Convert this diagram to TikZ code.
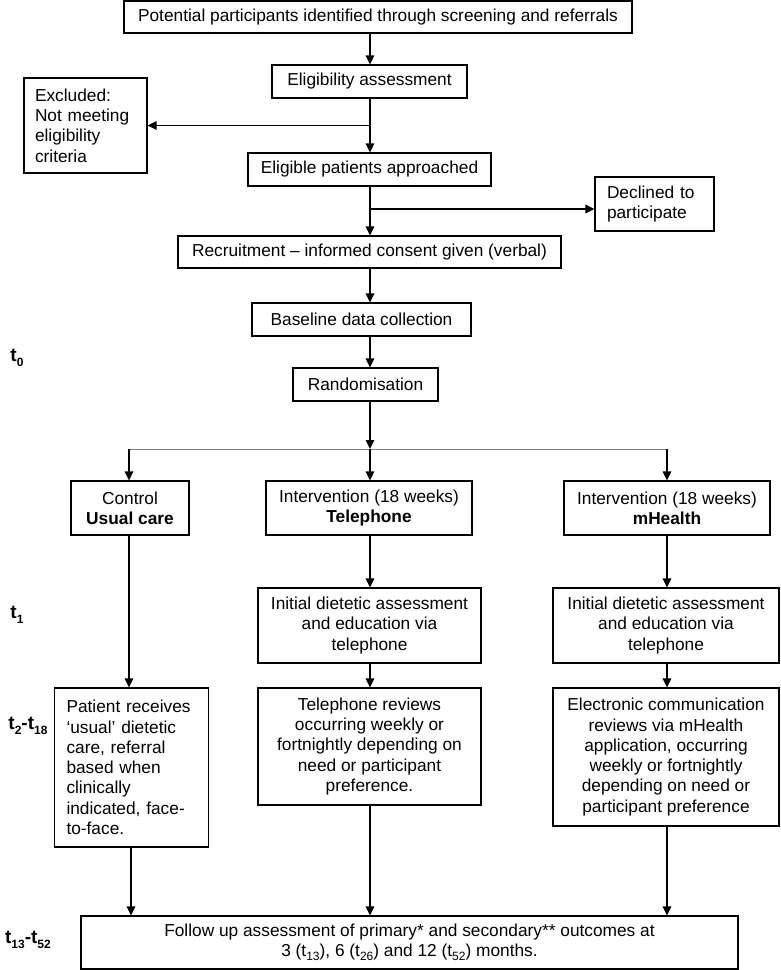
\documentclass[tikz,border=0pt]{standalone}
\usepackage{fontspec}
\setmainfont{Liberation Sans}
\usetikzlibrary{arrows.meta,calc}
\newcommand\mysub[1]{\raisebox{-0.45ex}{\fontsize{12}{12}\selectfont #1}}
\newcommand\boxfont{\fontsize{17.3}{20.3}\selectfont}
\begin{document}
\begin{tikzpicture}[x=1pt,y=-1pt,
  box/.style={draw, line width=1.1pt, inner sep=0pt, align=center, font=\boxfont},
  lbox/.style={box, align=left},
  arr/.style={-{Triangle[length=9pt,width=8.5pt]}, line width=1.1pt},
  ln/.style={line width=1.1pt},
  tlab/.style={font=\fontsize{19}{22}\selectfont\bfseries, inner sep=0pt}]
\useasboundingbox (0,0) rectangle (780,970);
\node[box, minimum width=508pt, minimum height=32pt] (n1) at (378,17) {Potential participants identified through screening and referrals};
\node[box, minimum width=195pt, minimum height=33pt] (elig) at (369.5,81.5) {Eligibility assessment};
\node[lbox, minimum width=123pt, minimum height=95pt, text width=101pt] (excl) at (85.5,125.5) {Excluded:\\Not meeting\\eligibility\\criteria};
\node[box, minimum width=243pt, minimum height=33pt] (appr) at (369.5,169.5) {Eligible patients approached};
\node[lbox, minimum width=119pt, minimum height=54pt, text width=95pt] (decl) at (654.5,204) {Declined to\\participate};
\node[box, minimum width=383pt, minimum height=32pt] (recr) at (369.5,252) {Recruitment -- informed consent given (verbal)};
\node[box, minimum width=219pt, minimum height=33pt] (base) at (361.5,319.5) {Baseline data collection};
\node[box, minimum width=145pt, minimum height=33pt] (rand) at (365.5,384.5) {Randomisation};
\node[box, minimum width=118pt, minimum height=54pt] (ctrl) at (130,508) {Control\\\textbf{Usual care}};
\node[box, minimum width=206pt, minimum height=54pt] (tel) at (369,508) {Intervention (18 weeks)\\\textbf{Telephone}};
\node[box, minimum width=206pt, minimum height=54pt] (mh) at (667,508) {Intervention (18 weeks)\\\textbf{mHealth}};
\node[box, minimum width=223pt, minimum height=75pt] (itel) at (369.5,625.5) {Initial dietetic assessment\\and education via\\telephone};
\node[box, minimum width=226pt, minimum height=75pt] (imh) at (666,625.5) {Initial dietetic assessment\\and education via\\telephone};
\node[lbox, minimum width=154pt, minimum height=159pt, text width=130pt] (pat) at (131.5,767.5) {Patient receives\\`usual' dietetic\\care, referral\\based when\\clinically\\indicated, face-\\to-face.};
\node[box, minimum width=223pt, minimum height=117pt] (rtel) at (369.5,746.5) {Telephone reviews\\occurring weekly or\\fortnightly depending on\\need or participant\\preference.};
\node[box, minimum width=226pt, minimum height=138pt] (rmh) at (666,757) {Electronic communication\\reviews via mHealth\\application, occurring\\weekly or fortnightly\\depending on need or\\participant preference};
\node[box, minimum width=657pt, minimum height=53pt] (fol) at (409.5,942.5) {Follow up assessment of primary* and secondary** outcomes at\\3 (t\mysub{13}), 6 (t\mysub{26}) and 12 (t\mysub{52}) months.};
\node[tlab] (t0) at (17,358) {t\mysub{\bfseries 0}};
\node[tlab] (t1) at (17,615) {t\mysub{\bfseries 1}};
\node[tlab] (t2) at (28,726) {t\mysub{\bfseries 2}-t\mysub{\bfseries 18}};
\node[tlab] (t13) at (28,940) {t\mysub{\bfseries 13}-t\mysub{\bfseries 52}};
\coordinate (sp) at (370,0);
\coordinate (dj) at (370,209);
\coordinate (split) at (370,449);
\coordinate (splitL) at (129,449);
\coordinate (splitR) at (667,449);
\draw[arr] (n1.south -| sp) -- (elig.north -| sp);
\draw[arr] (elig.south -| sp) -- (appr.north -| sp);
\draw[arr] (excl.east -| sp) -- (excl.east);
\draw[arr] (appr.south -| sp) -- (recr.north -| sp);
\draw[arr] (dj) -- (dj -| decl.west);
\draw[arr] (recr.south -| sp) -- (base.north -| sp);
\draw[arr] (base.south -| sp) -- (rand.north -| sp);
\draw[line width=1pt, black!50] (splitL) -- (splitR);
\draw[arr] (rand.south -| sp) -- (split);
\draw[arr] (split) -- (tel.north -| split);
\draw[arr] (splitL) -- (ctrl.north -| splitL);
\draw[arr] (splitR) -- (mh.north -| splitR);
\draw[arr] (ctrl.south -| splitL) -- (pat.north -| splitL);
\draw[arr] (tel.south -| split) -- (itel.north -| split);
\draw[arr] (itel.south -| split) -- (rtel.north -| split);
\draw[arr] (rtel.south -| split) -- (fol.north -| split);
\draw[arr] (mh.south -| splitR) -- (imh.north -| splitR);
\draw[arr] (imh.south -| splitR) -- (rmh.north -| splitR);
\draw[arr] (rmh.south -| splitR) -- (fol.north -| splitR);
\draw[arr] (pat.south -| 131,0) -- (fol.north -| 131,0);
\end{tikzpicture}
\end{document}
